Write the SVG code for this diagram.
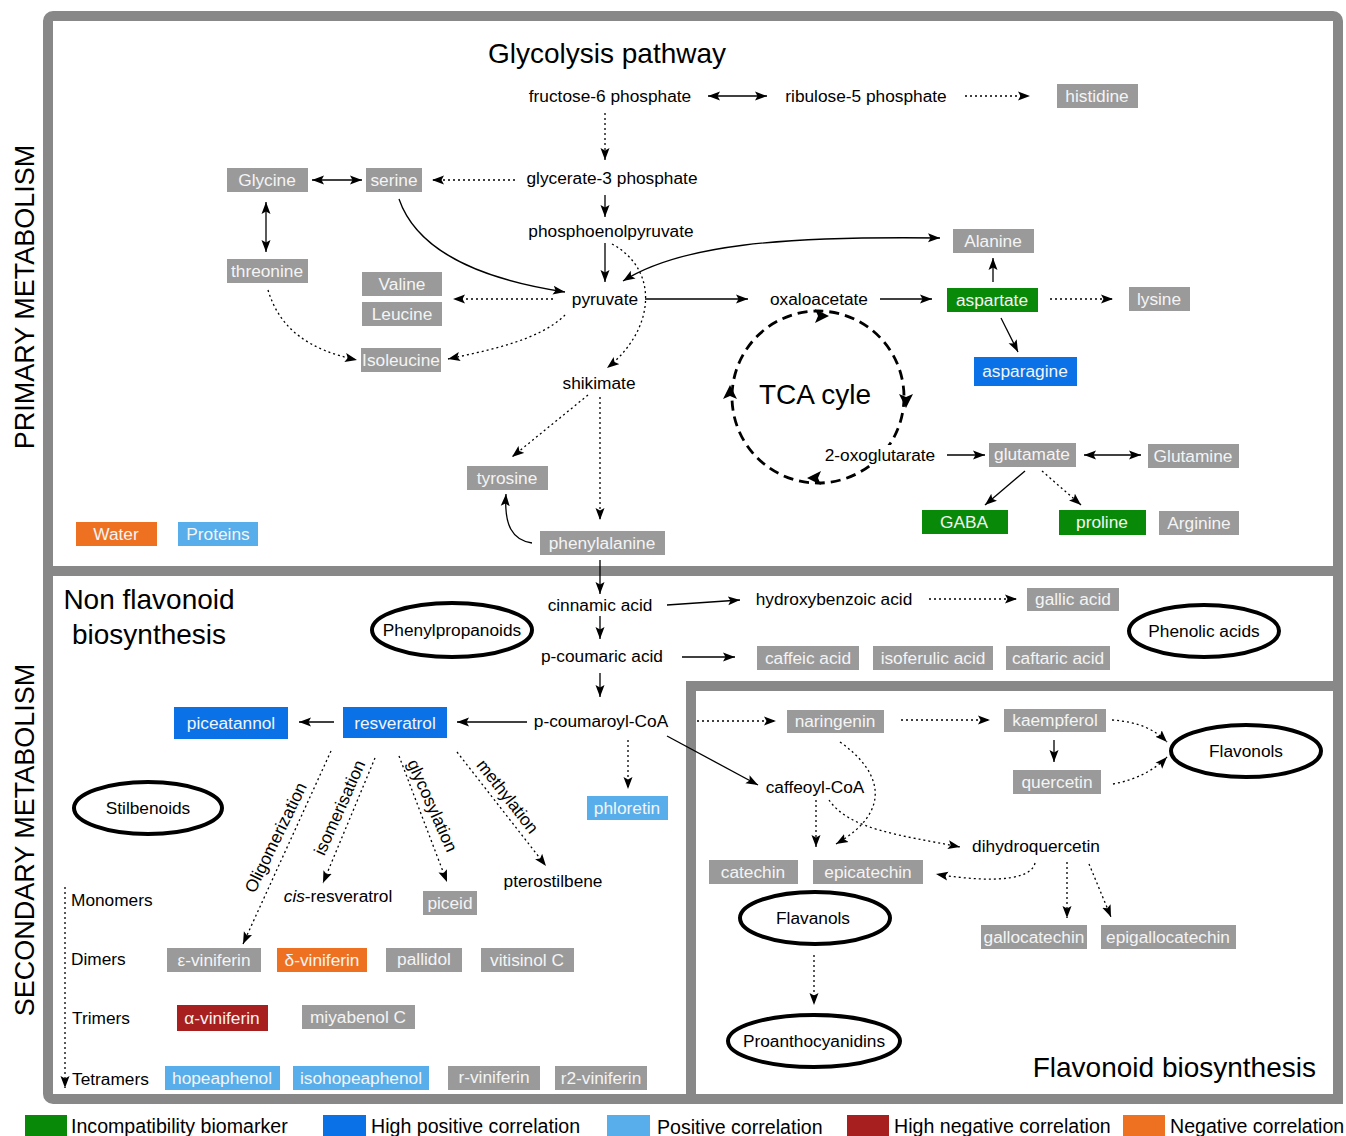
<svg xmlns="http://www.w3.org/2000/svg" width="1346" height="1136" viewBox="0 0 1346 1136">
<defs>
<marker id="a" viewBox="0 0 12 10" refX="12" refY="5" markerWidth="12" markerHeight="10" markerUnits="userSpaceOnUse" orient="auto-start-reverse"><path d="M0,0.5 L12,5 L0,9.5 L2.5,5 z" fill="#000"/></marker>
<style>
text{font-family:"Liberation Sans",Arial,sans-serif;font-size:17.3px;fill:#000;text-anchor:middle}
.bx text{fill:#f4f4f4}
.gr rect{fill:#9a9a9a}
.gn rect{fill:#088a08}
.bl rect{fill:#0a72e6}
.lb rect{fill:#58aeea}
.rd rect{fill:#a81f1f}
.or rect{fill:#ee7122}
.big{font-size:28px}
.side{font-size:27px}
.c path{fill:none;stroke:#000;stroke-width:1.3;marker-end:url(#a)}
.c .d{stroke-dasharray:2,3}
.c .bi{marker-start:url(#a)}
.el{fill:#fff;stroke:#000;stroke-width:4}
.frame{fill:none;stroke:#888;stroke-width:10}
.leg{font-size:19.6px;text-anchor:start}
.lab{text-anchor:start}
</style>
</defs>
<rect width="1346" height="1136" fill="#fff"/>
<g id="frames">
<rect class="frame" x="48" y="16" width="1290" height="1083" rx="5"/>
<line x1="48" y1="571" x2="1338" y2="571" stroke="#888" stroke-width="10"/>
<rect class="frame" x="691" y="686" width="647" height="413"/>
</g>
<text class="side" transform="translate(34,297) rotate(-90)">PRIMARY METABOLISM</text>
<text class="side" transform="translate(34,840) rotate(-90)">SECONDARY METABOLISM</text>
<text class="big" x="607" y="63">Glycolysis pathway</text>
<text class="big" x="149" y="609">Non flavonoid</text>
<text class="big" x="149" y="644">biosynthesis</text>
<text class="big" x="1316" y="1077" style="text-anchor:end">Flavonoid biosynthesis</text>

<g id="tca">
<circle cx="818" cy="397" r="86" fill="none" stroke="#000" stroke-width="2.8" stroke-dasharray="10,6"/>
<polygon points="829,316 815,309 818,316 815,323"/>
<polygon points="906,408 899,394 906,397 913,394"/>
<polygon points="807,478 821,471 818,478 821,485"/>
<polygon points="730,385 723,399 730,396 737,399"/>
<text class="big" x="815" y="404">TCA cyle</text>
</g>

<g id="connectors" class="c">
<path class="bi" d="M708,96 H767"/>
<path class="d" d="M965,96 H1030"/>
<path class="d" d="M605,113 V160"/>
<path class="d" d="M515,180 H432"/>
<path class="bi" d="M312,180 H362"/>
<path class="bi" d="M266,202 V252"/>
<path d="M605,195 V217"/>
<path d="M605,243 V282"/>
<path d="M399,199 C420,260 500,282 565,292"/>
<path class="bi" d="M623,281 C680,245 780,236 940,238"/>
<path class="d" d="M553,299 H453"/>
<path class="d" d="M565,315 C540,340 490,350 448,359"/>
<path class="d" d="M268,290 C280,330 310,350 357,360"/>
<path class="d" d="M612,244 C660,270 655,330 607,368"/>
<path d="M645,299 H748"/>
<path d="M880,299 H932"/>
<path d="M993,282 V258"/>
<path class="d" d="M1050,299 H1113"/>
<path d="M1001,318 L1018,352"/>
<path d="M947,455 H985"/>
<path class="bi" d="M1084,455 H1141"/>
<path d="M1025,471 L985,505"/>
<path class="d" d="M1042,471 L1081,505"/>
<path class="d" d="M588,395 L512,457"/>
<path class="d" d="M600,397 V520"/>
<path d="M532,543 C512,540 504,525 506,494"/>
<path d="M600,560 V594"/>
<path d="M667,605 L740,600"/>
<path class="d" d="M929,599 H1017"/>
<path d="M600,616 V639"/>
<path d="M682,657 H735"/>
<path d="M600,673 V697"/>
<path d="M527,722 H457"/>
<path d="M334,722 H299"/>
<path class="d" d="M628,740 V789"/>
<path class="d" d="M697,721 H776"/>
<path d="M667,736 L758,785"/>
<path class="d" d="M331,751 L243,944"/>
<path class="d" d="M375,758 L323,883"/>
<path class="d" d="M399,756 L447,882"/>
<path class="d" d="M457,752 L546,866"/>
<path class="d" d="M65,887 V1088"/>
<path class="d" d="M901,720 H990"/>
<path d="M1054,740 V762"/>
<path class="d" d="M1112,720 C1140,722 1155,730 1167,742"/>
<path class="d" d="M1113,784 C1135,780 1155,770 1167,757"/>
<path class="d" d="M840,742 C880,770 895,810 836,844"/>
<path class="d" d="M816,800 V847"/>
<path class="d" d="M829,800 C850,830 900,835 960,847"/>
<path class="d" d="M1035,863 C1030,885 970,880 936,874"/>
<path class="d" d="M1067,862 V918"/>
<path class="d" d="M1089,864 L1111,917"/>
<path class="d" d="M814,955 V1005"/>
</g>

<text transform="translate(281,840) rotate(-64)">Oligomerization</text>
<text transform="translate(345,810) rotate(-66)">isomerisation</text>
<text transform="translate(427,808) rotate(66)">glycosylation</text>
<text transform="translate(503,800) rotate(52)">methylation</text>

<g id="n-fructose"><text x="610" y="102">fructose-6 phosphate</text></g>
<g id="n-ribulose"><text x="866" y="102">ribulose-5 phosphate</text></g>
<g id="n-glycerate"><text x="612" y="184">glycerate-3 phosphate</text></g>
<g id="n-pep"><text x="611" y="237">phosphoenolpyruvate</text></g>
<g id="n-pyruvate"><text x="605" y="305">pyruvate</text></g>
<g id="n-oxaloacetate"><text x="819" y="305">oxaloacetate</text></g>
<g id="n-shikimate"><text x="599" y="389">shikimate</text></g>
<g id="n-oxoglutarate"><rect x="822" y="445" width="116" height="20" fill="#fff"/><text x="880" y="461">2-oxoglutarate</text></g>
<g id="n-cinnamic"><text x="600" y="611">cinnamic acid</text></g>
<g id="n-hydroxybenzoic"><text x="834" y="605">hydroxybenzoic acid</text></g>
<g id="n-pcoumaric"><text x="602" y="662">p-coumaric acid</text></g>
<g id="n-pcoumaroyl"><text x="601" y="727">p-coumaroyl-CoA</text></g>
<g id="n-caffeoyl"><text x="815" y="793">caffeoyl-CoA</text></g>
<g id="n-dihydroquercetin"><text x="1036" y="852">dihydroquercetin</text></g>
<g id="n-cisresveratrol"><text x="338" y="902"><tspan font-style="italic">cis</tspan>-resveratrol</text></g>
<g id="n-pterostilbene"><text x="553" y="887">pterostilbene</text></g>
<g id="n-levels">
<text class="lab" x="71" y="906">Monomers</text>
<text class="lab" x="71" y="965">Dimers</text>
<text class="lab" x="72" y="1024">Trimers</text>
<text class="lab" x="72" y="1085">Tetramers</text>
</g>

<g id="e-phenylpropanoids"><ellipse class="el" cx="452" cy="630" rx="80" ry="27"/><text x="452" y="636">Phenylpropanoids</text></g>
<g id="e-phenolic"><ellipse class="el" cx="1204" cy="631" rx="75" ry="26"/><text x="1204" y="637">Phenolic acids</text></g>
<g id="e-stilbenoids"><ellipse class="el" cx="148" cy="808" rx="74" ry="26"/><text x="148" y="814">Stilbenoids</text></g>
<g id="e-flavonols"><ellipse class="el" cx="1246" cy="751" rx="75" ry="26"/><text x="1246" y="757">Flavonols</text></g>
<g id="e-flavanols"><ellipse class="el" cx="815" cy="918" rx="75" ry="26"/><text x="813" y="924">Flavanols</text></g>
<g id="e-proantho"><ellipse class="el" cx="814" cy="1041" rx="86" ry="26"/><text x="814" y="1047">Proanthocyanidins</text></g>

<g id="histidine" class="bx gr"><rect x="1057" y="84" width="81" height="24"/><text x="1097" y="102">histidine</text></g>
<g id="glycine" class="bx gr"><rect x="227" y="168" width="81" height="24"/><text x="267" y="186">Glycine</text></g>
<g id="serine" class="bx gr"><rect x="366" y="168" width="56" height="24"/><text x="394" y="186">serine</text></g>
<g id="threonine" class="bx gr"><rect x="227" y="259" width="81" height="24"/><text x="267" y="277">threonine</text></g>
<g id="valine" class="bx gr"><rect x="362" y="272" width="80" height="24"/><text x="402" y="290">Valine</text></g>
<g id="leucine" class="bx gr"><rect x="362" y="302" width="80" height="24"/><text x="402" y="320">Leucine</text></g>
<g id="isoleucine" class="bx gr"><rect x="361" y="348" width="80" height="24"/><text x="401" y="366">Isoleucine</text></g>
<g id="alanine" class="bx gr"><rect x="953" y="229" width="81" height="24"/><text x="993" y="247">Alanine</text></g>
<g id="aspartate" class="bx gn"><rect x="947" y="288" width="91" height="24"/><text x="992" y="306">aspartate</text></g>
<g id="lysine" class="bx gr"><rect x="1129" y="287" width="61" height="24"/><text x="1159" y="305">lysine</text></g>
<g id="asparagine" class="bx bl"><rect x="974" y="357" width="103" height="29"/><text x="1025" y="377">asparagine</text></g>
<g id="glutamate" class="bx gr"><rect x="989" y="443" width="87" height="24"/><text x="1032" y="460">glutamate</text></g>
<g id="glutamine" class="bx gr"><rect x="1148" y="444" width="91" height="24"/><text x="1193" y="462">Glutamine</text></g>
<g id="gaba" class="bx gn"><rect x="922" y="510" width="86" height="24"/><text x="964" y="528">GABA</text></g>
<g id="proline" class="bx gn"><rect x="1059" y="510" width="87" height="25"/><text x="1102" y="528">proline</text></g>
<g id="arginine" class="bx gr"><rect x="1159" y="511" width="80" height="24"/><text x="1199" y="529">Arginine</text></g>
<g id="tyrosine" class="bx gr"><rect x="467" y="466" width="81" height="24"/><text x="507" y="484">tyrosine</text></g>
<g id="phenylalanine" class="bx gr"><rect x="540" y="531" width="125" height="24"/><text x="602" y="549">phenylalanine</text></g>
<g id="water" class="bx or"><rect x="76" y="522" width="81" height="24"/><text x="116" y="540">Water</text></g>
<g id="proteins" class="bx lb"><rect x="178" y="522" width="80" height="24"/><text x="218" y="540">Proteins</text></g>
<g id="gallic" class="bx gr"><rect x="1027" y="588" width="92" height="23"/><text x="1073" y="605">gallic acid</text></g>
<g id="caffeic" class="bx gr"><rect x="757" y="646" width="102" height="24"/><text x="808" y="664">caffeic acid</text></g>
<g id="isoferulic" class="bx gr"><rect x="873" y="646" width="120" height="24"/><text x="933" y="664">isoferulic acid</text></g>
<g id="caftaric" class="bx gr"><rect x="1006" y="646" width="104" height="24"/><text x="1058" y="664">caftaric acid</text></g>
<g id="resveratrol" class="bx bl"><rect x="343" y="707" width="104" height="31"/><text x="395" y="729">resveratrol</text></g>
<g id="piceatannol" class="bx bl"><rect x="174" y="707" width="114" height="32"/><text x="231" y="729">piceatannol</text></g>
<g id="phloretin" class="bx lb"><rect x="587" y="796" width="81" height="24"/><text x="627" y="814">phloretin</text></g>
<g id="piceid" class="bx gr"><rect x="423" y="891" width="54" height="24"/><text x="450" y="909">piceid</text></g>
<g id="e-viniferin" class="bx gr"><rect x="167" y="948" width="94" height="24"/><text x="214" y="966">ε-viniferin</text></g>
<g id="d-viniferin" class="bx or"><rect x="277" y="948" width="90" height="24"/><text x="322" y="966">δ-viniferin</text></g>
<g id="pallidol" class="bx gr"><rect x="386" y="948" width="76" height="24"/><text x="424" y="965">pallidol</text></g>
<g id="vitisinol" class="bx gr"><rect x="481" y="948" width="93" height="24"/><text x="527" y="966">vitisinol C</text></g>
<g id="a-viniferin" class="bx rd"><rect x="177" y="1005" width="91" height="26"/><text x="222" y="1024">α-viniferin</text></g>
<g id="miyabenol" class="bx gr"><rect x="302" y="1005" width="113" height="24"/><text x="358" y="1023">miyabenol C</text></g>
<g id="hopeaphenol" class="bx lb"><rect x="165" y="1066" width="115" height="24"/><text x="222" y="1084">hopeaphenol</text></g>
<g id="isohopeaphenol" class="bx lb"><rect x="293" y="1066" width="136" height="24"/><text x="361" y="1084">isohopeaphenol</text></g>
<g id="r-viniferin" class="bx gr"><rect x="448" y="1066" width="92" height="24"/><text x="494" y="1083">r-viniferin</text></g>
<g id="r2-viniferin" class="bx gr"><rect x="555" y="1066" width="92" height="24"/><text x="601" y="1084">r2-viniferin</text></g>
<g id="naringenin" class="bx gr"><rect x="787" y="710" width="97" height="23"/><text x="835" y="727">naringenin</text></g>
<g id="kaempferol" class="bx gr"><rect x="1004" y="709" width="102" height="23"/><text x="1055" y="726">kaempferol</text></g>
<g id="quercetin" class="bx gr"><rect x="1013" y="770" width="88" height="24"/><text x="1057" y="788">quercetin</text></g>
<g id="catechin" class="bx gr"><rect x="709" y="860" width="89" height="24"/><text x="753" y="878">catechin</text></g>
<g id="epicatechin" class="bx gr"><rect x="813" y="860" width="110" height="24"/><text x="868" y="878">epicatechin</text></g>
<g id="gallocatechin" class="bx gr"><rect x="981" y="925" width="106" height="24"/><text x="1034" y="943">gallocatechin</text></g>
<g id="epigallocatechin" class="bx gr"><rect x="1101" y="925" width="135" height="24"/><text x="1168" y="943">epigallocatechin</text></g>

<g id="legend">
<rect x="25" y="1115" width="42" height="22" fill="#088a08"/><text class="leg" x="71" y="1133">Incompatibility biomarker</text>
<rect x="323" y="1115" width="43" height="22" fill="#0a72e6"/><text class="leg" x="371" y="1133">High positive correlation</text>
<rect x="607" y="1115" width="43" height="22" fill="#58aeea"/><text class="leg" x="657" y="1134">Positive correlation</text>
<rect x="847" y="1115" width="42" height="22" fill="#a81f1f"/><text class="leg" x="894" y="1133">High negative correlation</text>
<rect x="1123" y="1115" width="42" height="22" fill="#ee7122"/><text class="leg" x="1170" y="1133">Negative correlation</text>
</g>
</svg>
